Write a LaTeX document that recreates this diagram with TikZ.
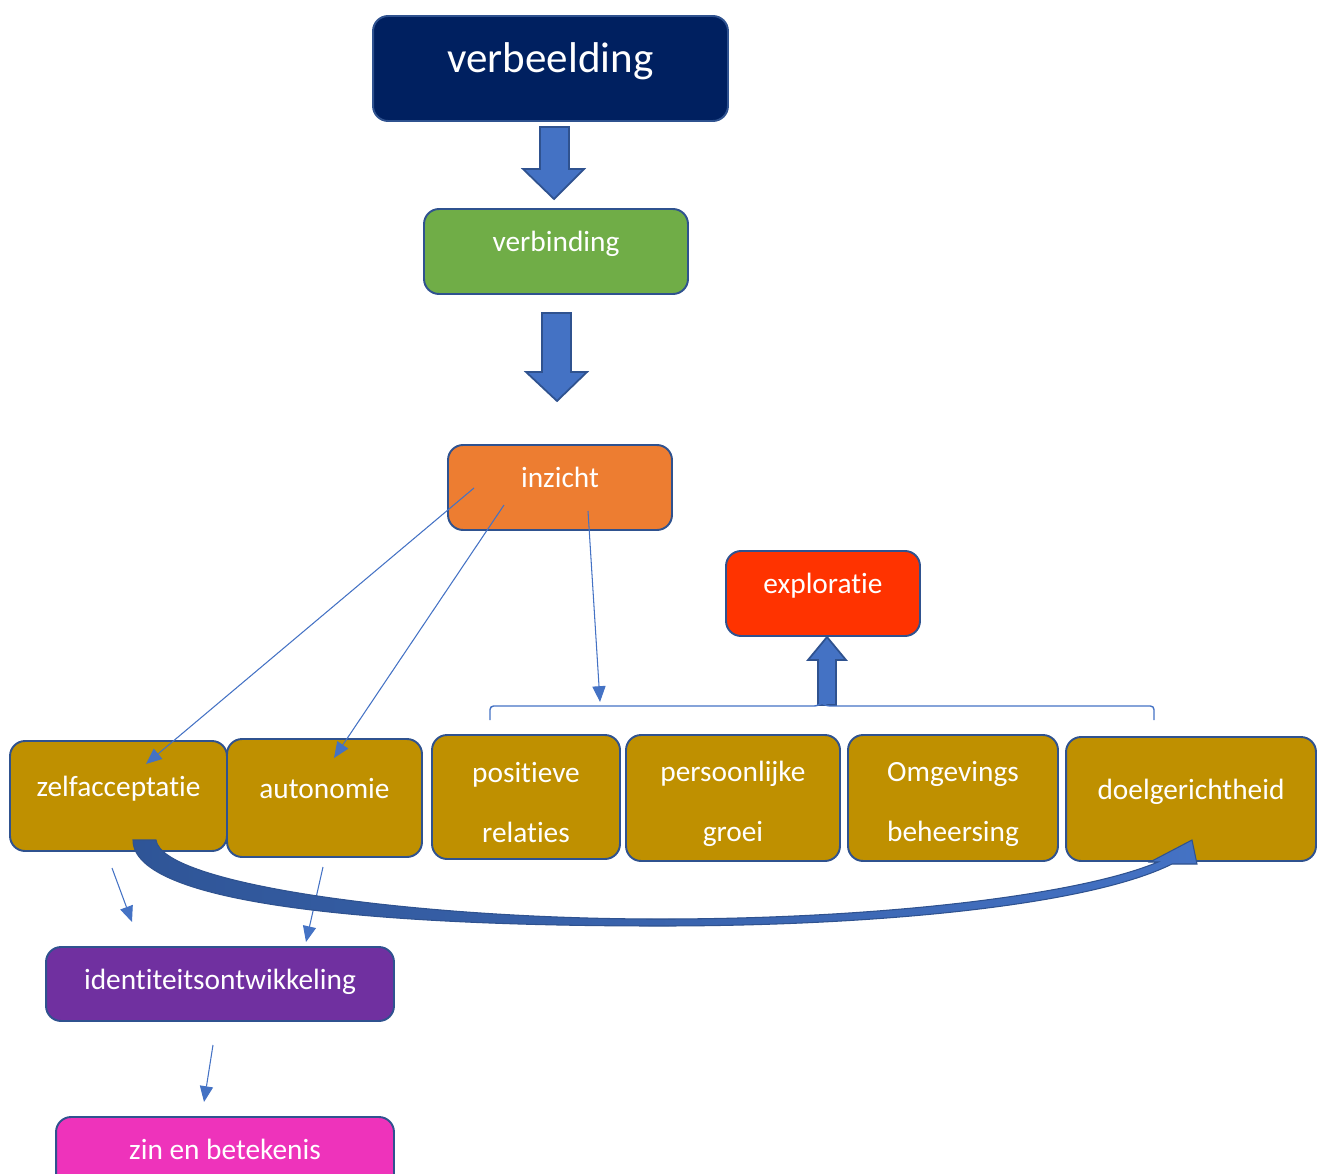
\documentclass[tikz,border=0pt]{standalone}
\usepackage{fontspec}
\setmainfont{Carlito}[Ligatures=NoCommon]
\usetikzlibrary{arrows.meta}

\definecolor{navy}{HTML}{002060}
\definecolor{groen}{HTML}{70AD47}
\definecolor{oranje}{HTML}{ED7D31}
\definecolor{rood}{HTML}{FF3300}
\definecolor{goud}{HTML}{BF9000}
\definecolor{paars}{HTML}{7030A0}
\definecolor{roze}{HTML}{EE33BB}
\definecolor{rand}{HTML}{2F528F}
\definecolor{lijn}{HTML}{4472C4}
\definecolor{donker}{HTML}{2F5597}

\newcommand{\hoog}{\rule{0pt}{18pt}}

\tikzset{
  vak/.style={draw=rand, line width=1.1pt, rounded corners=0.3cm, text=white, inner sep=0pt,
    font=\fontsize{16.7}{20}\selectfont},
  enkel/.style={text height=12pt, text depth=12pt},
  tweeregels/.style={align=center},
  pijl/.style={draw=lijn, line width=0.6pt, -{Triangle[length=9pt,width=7.5pt]}},
  blok/.style={draw=rand, line width=1pt, fill=lijn},
}

\begin{document}
\begin{tikzpicture}[x=0.02cm,y=-0.02cm]
			\useasboundingbox (0,0) rectangle (1325,1173);
			\clip (0,0) rectangle (1325,1173);
			%Boxes
			\node[vak,fill=navy,minimum width=7.1cm,minimum height=2.1cm,font=\fontsize{24.5}{29}\selectfont,text height=14pt,text depth=9pt] (verbeelding) at (550.5,68.5) {verbeelding};
			\node[vak,enkel,fill=groen,minimum width=5.28cm,minimum height=1.7cm] (verbinding) at (556,251.5) {verbinding};
			\node[vak,enkel,fill=oranje,minimum width=4.48cm,minimum height=1.7cm] (inzicht) at (560,487.5) {inzicht};
			\node[vak,enkel,fill=rood,minimum width=3.88cm,minimum height=1.7cm] (exploratie) at (823,593.5) {exploratie};
			\node[vak,enkel,fill=goud,minimum width=4.34cm,minimum height=2.2cm] (zelfacceptatie) at (118.5,796) {zelfacceptatie};
			\node[vak,enkel,fill=goud,minimum width=3.9cm,minimum height=2.36cm] (autonomie) at (324.5,798) {autonomie};
			\node[vak,tweeregels,fill=goud,minimum width=3.76cm,minimum height=2.48cm] (relaties) at (526,797) {\hoog positieve\\[14pt]relaties};
			\node[vak,tweeregels,fill=goud,minimum width=4.28cm,minimum height=2.52cm] (groei) at (733,798) {\hoog persoonlijke\\[14pt]groei};
			\node[vak,tweeregels,fill=goud,minimum width=4.2cm,minimum height=2.52cm] (omgeving) at (953,798) {\hoog Omgevings\\[14pt]beheersing};
			\node[vak,enkel,fill=goud,minimum width=5cm,minimum height=2.48cm] (doel) at (1191,799) {doelgerichtheid};
			\node[vak,fill=paars,minimum width=6.96cm,minimum height=1.48cm,text height=15.4pt,text depth=8.6pt] (identiteit) at (220,984) {identiteitsontwikkeling};
			\node[vak,enkel,fill=roze,minimum width=6.76cm,minimum height=1.68cm] (zin) at (225,1159) {zin en betekenis};
			%coordinates
			\coordinate (iz1) at (474,488);
			\coordinate (iz2) at (504,505);
			\coordinate (iz3) at (588,511);
			\coordinate (za) at (146,764);
			\coordinate (au) at (334,758);
			\coordinate (haak) at (600,702);
			\coordinate (za1) at (112,868);
			\coordinate (au1) at (323,867);
			\coordinate (id1) at (132,922);
			\coordinate (id2) at (306,942);
			\coordinate (id3) at (213,1045);
			\coordinate (zn) at (204,1102);
			%Block arrows
			\draw[blok] (540,127) -- (569,127) -- (569,169) -- (584,169) -- (554,199) -- (523,169) -- (540,169) -- cycle;
			\draw[blok] (542,313) -- (571,313) -- (571,372) -- (587,372) -- (557,401) -- (526,372) -- (542,372) -- cycle;
			\draw[blok] (818,705) -- (818,660) -- (808,660) -- (827,637) -- (846,660) -- (836,660) -- (836,705) -- cycle;
			%Bracket
			\draw[lijn,line width=0.8pt,rounded corners=2pt] (490,720) -- (490,706) -- (818,706) -- (822,702) -- (826,706) -- (1154,706) -- (1154,720);
			%Thin arrows
			\draw[pijl] (iz1) -- (za);
			\draw[pijl] (iz2) -- (au);
			\draw[pijl] (iz3) -- (haak);
			\draw[pijl] (za1) -- (id1);
			\draw[pijl] (au1) -- (id2);
			\draw[pijl] (id3) -- (zn);
			%Curved arrow
			\shadedraw[left color=donker,right color=lijn,draw=rand,line width=0.6pt]
				(133,840) -- (156,840) .. controls (162,885) and (420,919) .. (660,919)
				.. controls (880,919) and (1080,895) .. (1158,862) -- (1150,862) -- (1192,840) -- (1197,864) -- (1172,864)
				.. controls (1090,905) and (880,926) .. (660,926) .. controls (380,926) and (133,905) .. (133,840) -- cycle;
		\end{tikzpicture}
\end{document}
